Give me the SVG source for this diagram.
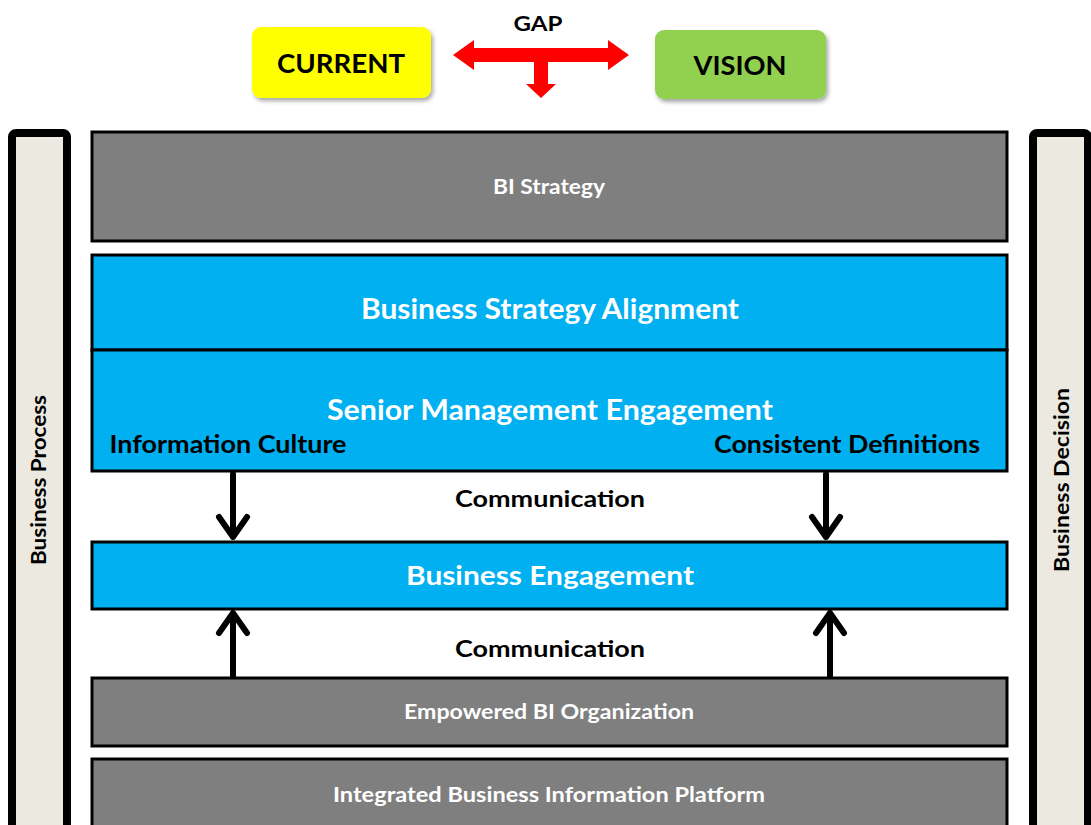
<svg xmlns="http://www.w3.org/2000/svg" width="1091" height="825" viewBox="0 0 1091 825">
<defs>
<filter id="sh" x="-10%" y="-10%" width="130%" height="140%">
<feDropShadow dx="2" dy="3" stdDeviation="2" flood-color="#000" flood-opacity="0.35"/>
</filter>
<style>
text{font-family:Lato,"Open Sans","Liberation Sans",sans-serif;font-weight:bold;text-anchor:middle}
.gray{fill:#7F7F7F;stroke:#000;stroke-width:3}
.blue{fill:#00B0F0;stroke:#000;stroke-width:3}
.side{fill:#ECE9E0;stroke:#000;stroke-width:8}
.w{fill:#fff}
.k{fill:#000}
.arr{fill:none;stroke:#000;stroke-width:6;stroke-linecap:round;stroke-linejoin:round}
</style>
</defs>
<rect width="1091" height="825" fill="#fff"/>
<g id="current"><rect x="252" y="27" width="179" height="71" rx="9" fill="#FFFF00" filter="url(#sh)"/><text x="341" y="73" font-size="27" class="k" textLength="128" lengthAdjust="spacingAndGlyphs">CURRENT</text></g>
<g id="vision"><rect x="655" y="30" width="171" height="69" rx="9" fill="#92D050" filter="url(#sh)"/><text x="740" y="75" font-size="27" class="k" textLength="93" lengthAdjust="spacingAndGlyphs">VISION</text></g>
<g id="gap"><text x="538" y="31" font-size="21" class="k" textLength="49" lengthAdjust="spacingAndGlyphs">GAP</text>
<polygon fill="#FF0000" points="453,55 474,40 474,48 608,48 608,40 629,55 608,70 608,62 548,62 548,84 556,84 541,98 526,84 534,84 534,62 474,62 474,70"/></g>
<g id="business-process"><rect class="side" x="12" y="133" width="55" height="720" rx="4"/><text transform="translate(46,480) rotate(-90)" font-size="20" class="k" textLength="170" lengthAdjust="spacingAndGlyphs">Business Process</text></g>
<g id="business-decision"><rect class="side" x="1033" y="133" width="55" height="720" rx="4"/><text transform="translate(1069,480) rotate(-90)" font-size="20" class="k" textLength="184" lengthAdjust="spacingAndGlyphs">Business Decision</text></g>
<g id="bi-strategy"><rect class="gray" x="92" y="132" width="915" height="109"/><text x="549" y="194" font-size="20" class="w" textLength="112" lengthAdjust="spacingAndGlyphs">BI Strategy</text></g>
<g id="business-strategy-alignment"><rect class="blue" x="92" y="255" width="915" height="95"/><text x="550" y="319" font-size="28" class="w" textLength="378" lengthAdjust="spacingAndGlyphs">Business Strategy Alignment</text></g>
<g id="senior-management-engagement"><rect class="blue" x="92" y="350" width="915" height="121"/><text x="550" y="420" font-size="28" class="w" textLength="446" lengthAdjust="spacingAndGlyphs">Senior Management Engagement</text>
<text x="228" y="453" font-size="24" class="k" textLength="237" lengthAdjust="spacingAndGlyphs">Information Culture</text><text x="847" y="453" font-size="24" class="k" textLength="266" lengthAdjust="spacingAndGlyphs">Consistent Definitions</text></g>
<g id="business-engagement"><rect class="blue" x="92" y="542" width="915" height="67"/><text x="550" y="585" font-size="26" class="w" textLength="288" lengthAdjust="spacingAndGlyphs">Business Engagement</text></g>
<g id="empowered-bi"><rect class="gray" x="92" y="678" width="915" height="68"/><text x="549" y="719" font-size="20" class="w" textLength="290" lengthAdjust="spacingAndGlyphs">Empowered BI Organization</text></g>
<g id="integrated-platform"><rect class="gray" x="92" y="759" width="915" height="80"/><text x="549" y="802" font-size="20" class="w" textLength="432" lengthAdjust="spacingAndGlyphs">Integrated Business Information Platform</text></g>
<g id="labels"><text x="550" y="507" font-size="23" class="k" textLength="190" lengthAdjust="spacingAndGlyphs">Communication</text><text x="550" y="657" font-size="23" class="k" textLength="190" lengthAdjust="spacingAndGlyphs">Communication</text></g>
<g id="connectors">
<path class="arr" d="M233,474V537M219,517L233,537L247,517"/>
<path class="arr" d="M826,474V537M812,517L826,537L840,517"/>
<path class="arr" d="M233,676V613M219,633L233,613L247,633"/>
<path class="arr" d="M830,676V613M816,633L830,613L844,633"/>
</g>
</svg>
